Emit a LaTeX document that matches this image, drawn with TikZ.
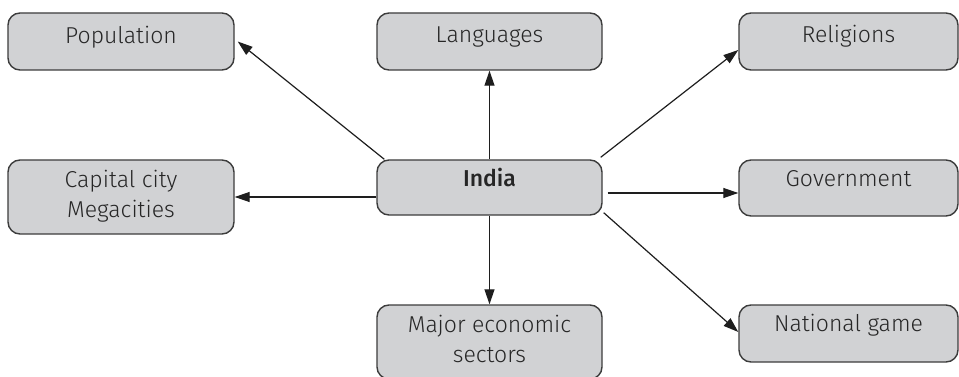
\documentclass[tikz,border=0pt]{standalone}
\usepackage{fontspec}
\setmainfont{Fira Sans}[UprightFont={* Light},BoldFont={* Medium}]
\usetikzlibrary{arrows.meta}
\definecolor{boxfill}{HTML}{D1D2D4}
\definecolor{boxline}{HTML}{3C3C3C}
\definecolor{linkline}{HTML}{1E1E1E}
\tikzset{
  topic/.style={draw=boxline, line width=1.4pt, fill=boxfill, rounded corners=12pt,
    rectangle, inner sep=0pt},
  caption/.style={anchor=base, align=center, inner sep=0pt, text=black!85,
    font=\fontsize{23}{30}\selectfont},
  link/.style={draw=linkline, line width=1.2pt, -{Triangle[length=15pt,width=10pt]}}
}
\begin{document}
\begin{tikzpicture}[x=1pt,y=-1pt]
\useasboundingbox (0,0) rectangle (959,377);
% boxes
\node[topic, minimum width=226pt, minimum height=57pt] (pop) at (121,41.5) {};
\node[topic, minimum width=225pt, minimum height=57pt] (lang) at (489.5,41.5) {};
\node[topic, minimum width=219pt, minimum height=57pt] (rel) at (848.5,41.5) {};
\node[topic, minimum width=226pt, minimum height=74pt] (cap) at (121,197) {};
\node[topic, minimum width=225pt, minimum height=55pt] (india) at (489.5,187.5) {};
\node[topic, minimum width=219pt, minimum height=56pt] (gov) at (848.5,188) {};
\node[topic, minimum width=225pt, minimum height=74pt] (eco) at (489.5,342) {};
\node[topic, minimum width=219pt, minimum height=57pt] (game) at (848.5,333.5) {};
% texts (base anchor of a two-line caption sits on its last line)
\node[caption] (popt) at ([yshift=-31pt]pop.north) {Population};
\node[caption] (langt) at ([yshift=-30pt]lang.north) {Languages};
\node[caption] (relt) at ([yshift=-30pt]rel.north) {Religions};
\node[caption] (capt) at ([yshift=-58pt]cap.north) {Capital city\\Megacities};
\node[caption] (indiat) at ([yshift=-27pt]india.north) {\bfseries India};
\node[caption] (govt) at ([yshift=-27pt]gov.north) {Government};
\node[caption] (ecot) at ([yshift=-58pt]eco.north) {Major economic\\sectors};
\node[caption] (gamet) at ([yshift=-27pt]game.north) {National game};
% connectors
\draw[link] ([xshift=8pt]india.north west) -- ([xshift=3pt]pop.east);
\draw[link] (india.north) -- (lang.south);
\draw[link] ([xshift=-2pt,yshift=2pt]india.north east) -- ([yshift=-8.5pt]rel.west);
\draw[link] ([yshift=-9.5pt]india.west) -- (cap.east);
\draw[link] ([xshift=5pt,yshift=-5.5pt]india.east) -- ([yshift=-5pt]gov.west);
\draw[link] ([xshift=1pt,yshift=3pt]india.south east) -- ([yshift=1.5pt]game.west);
\draw[link] (india.south) -- (eco.north);
\end{tikzpicture}
\end{document}
